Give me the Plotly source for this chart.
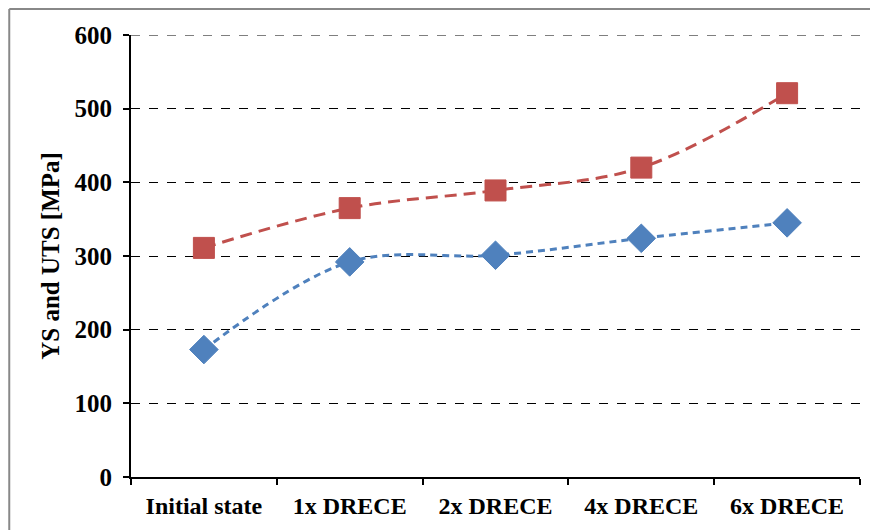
import plotly.graph_objects as go

categories = ["Initial state", "1x DRECE", "2x DRECE", "4x DRECE", "6x DRECE"]
ys_values = [173, 292, 301, 324, 345]
uts_values = [311, 365, 389, 420, 521]
y_ticks = [0, 100, 200, 300, 400, 500, 600]

fig = go.Figure()
fig.add_trace(go.Scatter(
    x=categories, y=uts_values, mode="lines+markers", name="UTS",
    line=dict(color="#C0504D", width=3, dash="12px,7px", shape="spline", smoothing=1),
    marker=dict(symbol="square", size=21, color="#C0504D", line=dict(color="#C0504D", width=1)),
))
fig.add_trace(go.Scatter(
    x=categories, y=ys_values, mode="lines+markers", name="YS",
    line=dict(color="#4F81BD", width=3, dash="7px,5px", shape="spline", smoothing=1),
    marker=dict(symbol="diamond", size=22, color="#4F81BD", line=dict(color="#4F81BD", width=1)),
))

font_family = "Liberation Serif"
fig.update_layout(
    width=870, height=522,
    margin=dict(l=123, r=18, t=27, b=53),
    paper_bgcolor="white", plot_bgcolor="white",
    showlegend=False,
    font=dict(family=font_family, color="black"),
)
fig.update_xaxes(
    type="category", tickson="boundaries", ticks="outside", ticklen=6, tickwidth=1.5,
    tickcolor="black", showline=True, linecolor="black", linewidth=2,
    showgrid=False, range=[-0.5, 4.5], automargin=False, ticklabelstandoff=6,
    tickfont=dict(family=font_family, size=24, color="black", weight="bold"),
)
fig.update_yaxes(
    range=[0, 600], tickvals=y_ticks, ticks="outside", ticklen=6, tickwidth=1.5,
    tickcolor="black", showline=True, linecolor="black", linewidth=2,
    showgrid=True, gridcolor="black", gridwidth=1, griddash="dash",
    zeroline=False, automargin=False, ticklabelstandoff=6,
    tickfont=dict(family=font_family, size=25, color="black", weight="bold"),
    title=dict(text="YS and UTS [MPa]", font=dict(family=font_family, size=25, color="black", weight="bold"), standoff=8),
)
fig.add_shape(type="line", xref="paper", yref="y", x0=0, x1=1, y0=y_ticks[-1], y1=y_ticks[-1],
              line=dict(color="black", width=1, dash="dash"))
fig.add_shape(type="line", xref="paper", yref="paper", x0=-0.167, x1=-0.167, y0=1.059, y1=-0.13,
              line=dict(color="#888888", width=2))
fig.add_shape(type="line", xref="paper", yref="paper", x0=-0.167, x1=1.03, y0=1.059, y1=1.059,
              line=dict(color="#888888", width=2))

fig.write_html("out.html")
